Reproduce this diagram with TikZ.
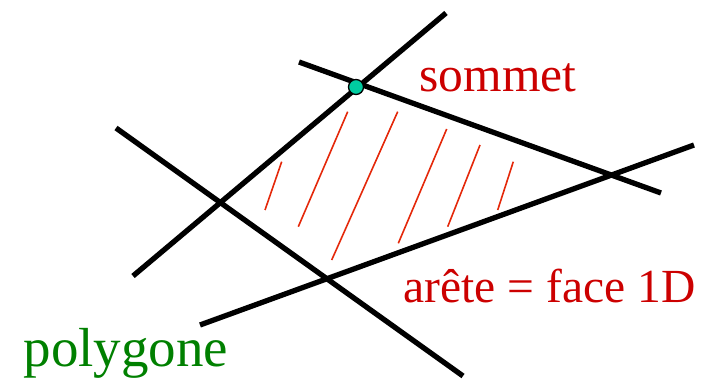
\documentclass[tikz,border=0pt]{standalone}
\usepackage{fontspec}
\setmainfont{Liberation Serif}
\definecolor{labelred}{RGB}{204,0,0}
\definecolor{hatchred}{RGB}{228,40,10}
\definecolor{labelgreen}{RGB}{0,128,0}
\definecolor{vertexteal}{RGB}{0,204,160}

\begin{document}
\begin{tikzpicture}[x=1pt,y=-1pt,line width=5.3pt,
  hatch/.style={line width=1.6pt,hatchred},
  lbl/.style={anchor=base west,inner sep=0pt}]
\useasboundingbox (0,0) rectangle (725,382);
% the four lines bounding the polygon
\coordinate (a1) at (133,276); \coordinate (a2) at (446,13);
\coordinate (b1) at (299,62);  \coordinate (b2) at (661,193);
\coordinate (c1) at (116,128); \coordinate (c2) at (463,376);
\coordinate (d1) at (200,325); \coordinate (d2) at (694,145);
\draw (a1) -- (a2);
\draw (b1) -- (b2);
\draw (c1) -- (c2);
\draw (d1) -- (d2);
% hatching inside the polygon
\draw[hatch] (281.7,161.7) -- (265,210);
\draw[hatch] (347.7,111.7) -- (298.3,226.7);
\draw[hatch] (397.7,111.7) -- (331.7,260);
\draw[hatch] (446.7,129) -- (398.3,243.3);
\draw[hatch] (480,145) -- (447.7,226.7);
\draw[hatch] (513.3,161.7) -- (497.7,210);
% vertex
\filldraw[line width=1.3pt,fill=vertexteal] (356,87) circle (7.5);
% labels
\node[lbl,labelred,font=\fontsize{49.5}{50}\selectfont] (sommet) at (417,92) {sommet};
\node[lbl,labelred,font=\fontsize{47.5}{48}\selectfont] (arete) at (401,302) {arête = face 1D};
\node[lbl,labelgreen,font=\fontsize{55}{56}\selectfont] (polygone) at (21,366) {polygone};
\end{tikzpicture}
\end{document}
